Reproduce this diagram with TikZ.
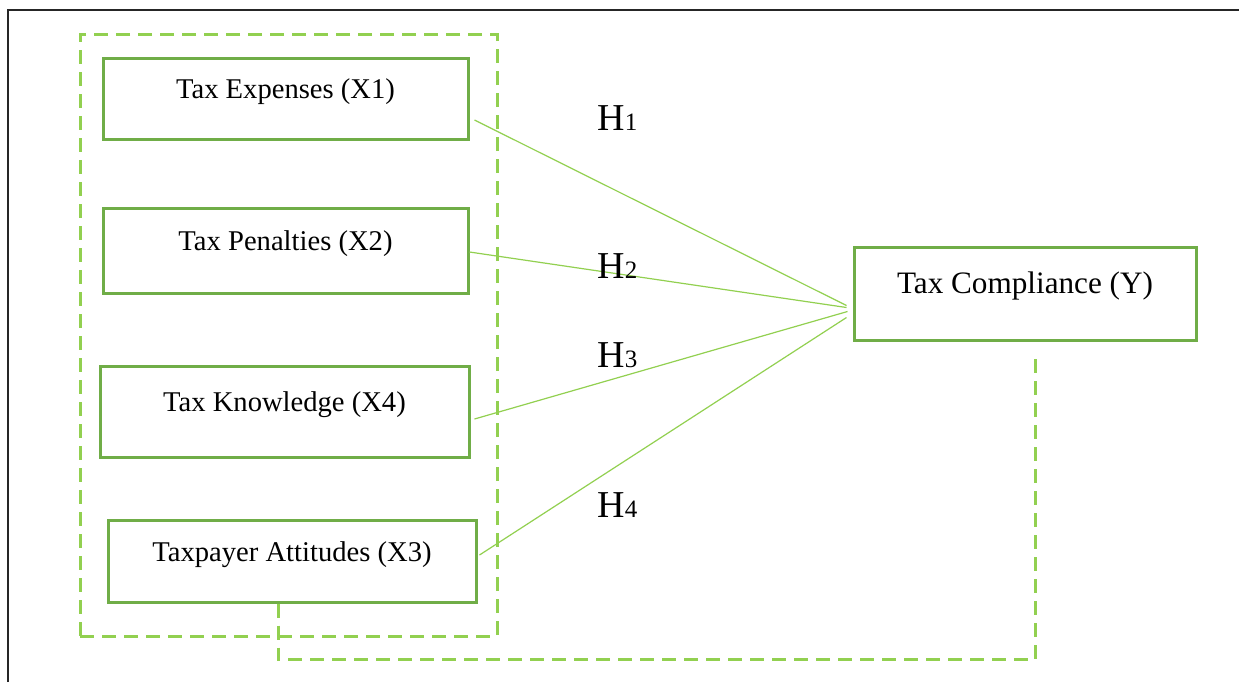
\documentclass[tikz,border=0pt]{standalone}
\usepackage{fontspec}
\setmainfont{Liberation Serif}
\usetikzlibrary{calc}
\definecolor{boxgreen}{HTML}{70AD47}
\definecolor{lightgreen}{HTML}{92D050}
\tikzset{
  varbox/.style={draw=boxgreen, line width=1.5pt, inner sep=0pt,
    text height=0pt, text depth=0pt, font=\fontsize{14.3}{16}\selectfont},
  depbox/.style={varbox, font=\fontsize{15.6}{18}\selectfont},
  dashline/.style={draw=lightgreen, line width=1.5pt, dash pattern=on 7pt off 4pt},
  link/.style={draw=lightgreen, line width=0.6pt},
  hlab/.style={anchor=base west, inner sep=0pt, font=\fontsize{19}{22}\selectfont},
  frame/.style={draw=black!85, line width=0.9pt}
}
\newcommand{\hsub}[1]{{\fontsize{12.5}{14}\selectfont #1}}
\begin{document}
\begin{tikzpicture}[x=0.5pt,y=-0.5pt]
\useasboundingbox (0,0) rectangle (1239,682);
\fill[white] (0,0) rectangle (1239,682);
\draw[frame] (8,682) -- (8,10) -- (1239,10);

\node[dashline, draw, minimum width=208.5pt, minimum height=301pt, inner sep=0pt] (grp) at (288.5,335) {};

\node[varbox, minimum width=182.5pt, minimum height=40.5pt] (X1) at (285.5,98.5) {Tax Expenses (X1)};
\node[varbox, minimum width=182.5pt, minimum height=42.5pt] (X2) at (285.5,250.5) {Tax Penalties (X2)};
\node[varbox, minimum width=184.5pt, minimum height=45.5pt] (X4) at (284.5,411.5) {Tax Knowledge (X4)};
\node[varbox, minimum width=184pt, minimum height=41pt] (X3) at (292,561) {Taxpayer Attitudes (X3)};
\node[depbox, minimum width=171pt, minimum height=46.5pt] (Y) at (1025,293.5) {Tax Compliance (Y)};

\draw[link] ([shift={(5,21.5)}]X1.east) -- ([shift={(-6,12)}]Y.west);
\draw[link] ([shift={(0,1.5)}]X2.east) -- ([shift={(-6,14)}]Y.west);
\draw[link] ([shift={(4,7.5)}]X4.east) -- ([shift={(-5,18)}]Y.west);
\draw[link] ([shift={(2,-6)}]X3.east) -- ([shift={(-6,24)}]Y.west);

\node[hlab] (H1) at (597,130) {H\hsub{1}};
\node[hlab] (H2) at (597,278) {H\hsub{2}};
\node[hlab] (H3) at (597,367) {H\hsub{3}};
\node[hlab] (H4) at (597,517) {H\hsub{4}};

\draw[dashline] ([shift={(-14,0)}]X3.south) -- ++(0,56) -| ([shift={(10,10)}]Y.south);
\end{tikzpicture}
\end{document}
